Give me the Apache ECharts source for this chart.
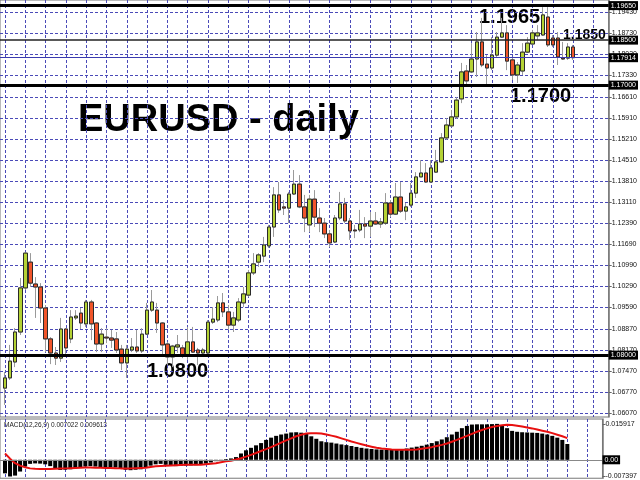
<!DOCTYPE html>
<html><head><meta charset="utf-8">
<script src="https://cdn.jsdelivr.net/npm/echarts@6.0.0/dist/echarts.min.js"></script>
<style>html,body{margin:0;padding:0;background:#fff}#c{width:640px;height:480px}</style>
</head><body><div id="c"></div>
<script>
// ---- data (EURUSD daily) ----
const opens = [1.0690,1.0724,1.0777,1.0877,1.1024,1.1110,1.1037,1.1027,1.0957,1.0854,
1.0807,1.0790,1.0887,1.0854,1.0924,1.0940,1.0904,1.0977,1.0907,1.0837,
1.0860,1.0857,1.0854,1.0820,1.0774,1.0817,1.0827,1.0814,1.0870,1.0950,
1.0950,1.0907,1.0837,1.0794,1.0827,1.0824,1.0800,1.0844,1.0817,1.0807,
1.0807,1.0910,1.0917,1.0974,1.0944,1.0900,1.0917,1.0974,1.1000,1.1074,
1.1110,1.1130,1.1164,1.1227,1.1334,1.1294,1.1290,1.1337,1.1370,1.1294,
1.1234,1.1320,1.1257,1.1240,1.1204,1.1177,1.1257,1.1304,1.1247,1.1217,
1.1217,1.1237,1.1230,1.1247,1.1237,1.1240,1.1307,1.1270,1.1327,1.1280,
1.1300,1.1340,1.1394,1.1407,1.1377,1.1410,1.1444,1.1524,1.1564,1.1594,
1.1654,1.1747,1.1744,1.1787,1.1844,1.1770,1.1757,1.1800,1.1860,1.1874,
1.1784,1.1734,1.1747,1.1810,1.1837,1.1864,1.1867,1.1927,1.1857,1.1857,
1.1790,1.1790,1.1827];
const closes = [1.0724,1.0780,1.0877,1.1024,1.1140,1.1040,1.1027,1.0957,1.0854,1.0807,
1.0790,1.0887,1.0824,1.0927,1.0930,1.0907,1.0977,1.0904,1.0837,1.0870,
1.0857,1.0850,1.0817,1.0774,1.0820,1.0827,1.0814,1.0870,1.0950,1.0977,
1.0907,1.0834,1.0794,1.0830,1.0834,1.0800,1.0844,1.0810,1.0807,1.0817,
1.0910,1.0920,1.0974,1.0944,1.0900,1.0924,1.0977,1.1004,1.1074,1.1104,
1.1134,1.1167,1.1227,1.1334,1.1284,1.1290,1.1337,1.1370,1.1294,1.1257,
1.1320,1.1260,1.1240,1.1204,1.1174,1.1257,1.1304,1.1247,1.1214,1.1214,
1.1237,1.1230,1.1247,1.1237,1.1244,1.1307,1.1270,1.1327,1.1280,1.1294,
1.1340,1.1394,1.1407,1.1377,1.1424,1.1444,1.1524,1.1567,1.1594,1.1650,
1.1744,1.1714,1.1787,1.1844,1.1767,1.1757,1.1800,1.1860,1.1874,1.1780,
1.1734,1.1767,1.1810,1.1840,1.1874,1.1874,1.1934,1.1834,1.1834,1.1794,
1.1787,1.1827,1.17914];
const lows = [1.0634,1.0717,1.0760,1.0867,1.1017,1.1027,1.0924,1.0907,1.0810,1.0770,
1.0767,1.0777,1.0794,1.0840,1.0917,1.0887,1.0894,1.0850,1.0810,1.0810,
1.0840,1.0824,1.0807,1.0750,1.0724,1.0810,1.0807,1.0807,1.0867,1.0944,
1.0874,1.0800,1.0767,1.0760,1.0807,1.0790,1.0784,1.0807,1.0767,1.0797,
1.0800,1.0904,1.0910,1.0927,1.0884,1.0877,1.0910,1.0960,1.0994,1.1067,
1.1094,1.1110,1.1157,1.1194,1.1274,1.1267,1.1240,1.1334,1.1290,1.1210,
1.1210,1.1227,1.1210,1.1190,1.1160,1.1174,1.1250,1.1240,1.1184,1.1190,
1.1210,1.1190,1.1194,1.1234,1.1224,1.1234,1.1260,1.1267,1.1274,1.1250,
1.1294,1.1324,1.1394,1.1374,1.1374,1.1407,1.1440,1.1517,1.1560,1.1587,
1.1640,1.1700,1.1740,1.1727,1.1760,1.1700,1.1750,1.1794,1.1857,1.1750,
1.1717,1.1707,1.1734,1.1807,1.1834,1.1850,1.1864,1.1827,1.1827,1.1767,
1.1784,1.1784,1.1784];
const highs = [1.0744,1.0834,1.0890,1.1057,1.1144,1.1140,1.1060,1.1040,1.0967,1.0860,
1.0827,1.0924,1.0890,1.0950,1.0950,1.0957,1.0984,1.0984,1.0910,1.0890,
1.0890,1.0884,1.0877,1.0834,1.0834,1.0857,1.0884,1.0890,1.0974,1.1017,
1.0974,1.0910,1.0844,1.0834,1.0867,1.0834,1.0894,1.0894,1.0824,1.0824,
1.0917,1.0960,1.0997,1.1007,1.0967,1.0944,1.0990,1.1027,1.1084,1.1140,
1.1140,1.1194,1.1234,1.1360,1.1377,1.1317,1.1344,1.1417,1.1400,1.1334,
1.1334,1.1350,1.1290,1.1257,1.1217,1.1267,1.1344,1.1324,1.1257,1.1234,
1.1284,1.1260,1.1277,1.1277,1.1257,1.1340,1.1317,1.1374,1.1377,1.1307,
1.1374,1.1410,1.1450,1.1440,1.1450,1.1484,1.1540,1.1590,1.1617,1.1660,
1.1774,1.1767,1.1840,1.1877,1.1924,1.1800,1.1860,1.1877,1.1924,1.1900,
1.1794,1.1777,1.1840,1.1860,1.1884,1.1900,1.1960,1.1960,1.1867,1.1877,
1.1844,1.1840,1.1834];
const macdMain = [-0.0060,-0.0074,-0.0070,-0.0052,-0.0030,-0.0018,-0.0016,-0.0017,-0.0020,-0.0028,
-0.0038,-0.0045,-0.0044,-0.0042,-0.0038,-0.0034,-0.0030,-0.0028,-0.0030,-0.0033,
-0.0033,-0.0032,-0.0034,-0.0038,-0.0044,-0.0046,-0.0044,-0.0042,-0.0036,-0.0026,
-0.0020,-0.0018,-0.0022,-0.0027,-0.0028,-0.0027,-0.0026,-0.0025,-0.0024,-0.0022,
-0.0017,-0.0012,-0.0006,-0.0002,0.0003,0.0006,0.0012,0.0028,0.0042,0.0053,
0.0064,0.0074,0.0088,0.0098,0.0106,0.0112,0.0116,0.0121,0.0122,0.0120,
0.0115,0.0104,0.0093,0.0082,0.0078,0.0076,0.0072,0.0068,0.0065,0.0061,
0.0057,0.0053,0.0050,0.0048,0.0046,0.0045,0.0044,0.0044,0.0044,0.0046,
0.0050,0.0054,0.0058,0.0062,0.0067,0.0074,0.0082,0.0090,0.0100,0.0112,
0.0124,0.0140,0.0150,0.0156,0.0157,0.0157,0.0157,0.0158,0.0159,0.0150,
0.0140,0.0128,0.0124,0.0122,0.0121,0.0120,0.0119,0.0116,0.0112,0.0106,
0.0098,0.0088,0.0070];
const macdSignal = [0.0028,0.0005,-0.0015,-0.0026,-0.0033,-0.0038,-0.0040,-0.0041,-0.0041,-0.0041,
-0.0040,-0.0039,-0.0038,-0.0037,-0.0036,-0.0035,-0.0034,-0.0034,-0.0035,-0.0035,
-0.0036,-0.0036,-0.0037,-0.0038,-0.0038,-0.0038,-0.0037,-0.0036,-0.0035,-0.0032,
-0.0029,-0.0027,-0.0026,-0.0025,-0.0024,-0.0023,-0.0022,-0.0022,-0.0022,-0.0022,
-0.0020,-0.0018,-0.0015,-0.0011,-0.0007,-0.0004,0.0001,0.0007,0.0014,0.0022,
0.0030,0.0039,0.0047,0.0056,0.0066,0.0076,0.0086,0.0095,0.0104,0.0111,
0.0116,0.0118,0.0118,0.0116,0.0112,0.0107,0.0102,0.0095,0.0088,0.0081,
0.0075,0.0069,0.0063,0.0058,0.0053,0.0050,0.0048,0.0046,0.0045,0.0044,
0.0044,0.0045,0.0046,0.0049,0.0052,0.0056,0.0061,0.0066,0.0072,0.0080,
0.0088,0.0097,0.0106,0.0115,0.0124,0.0132,0.0139,0.0145,0.0150,0.0153,
0.0155,0.0154,0.0151,0.0147,0.0143,0.0139,0.0134,0.0129,0.0124,0.0118,
0.0111,0.0104,0.0096];
const priceTicks = [1.06070,1.06770,1.07470,1.08170,1.08870,1.09590,1.10290,1.10990,1.11690,1.12390,
1.13110,1.13810,1.14510,1.15210,1.15910,1.16610,1.17330,1.18030,1.18730,1.19430];
const macdTicks = [0.015917, 0, -0.007397];
const levelPrices = [1.19650, 1.18500, 1.17914, 1.17000, 1.08000];
const levelTexts = ['1.1965', '1.1850', '1.1700', '1.0800'];
const macdTitle = 'MACD(12,26,9) 0.007022 0.009613';
const chartTitle = 'EURUSD - daily';

// ---- build ----
const LEAD = 1, TRAIL = 7;
const pad = a => [...Array(LEAD).fill('-'), ...a, ...Array(TRAIL).fill('-')];
const categories = pad(opens.map((_, i) => 'D' + (i + 1))).map((c, i) => c === '-' ? 'e' + i : c);
const fullData = pad(opens.map((o, i) => [o, closes[i], lows[i], highs[i]]));
const bodyData = pad(opens.map((o, i) => [o, closes[i], Math.min(o, closes[i]), Math.max(o, closes[i])]));

const BULL = '#b4d234', BEAR = '#f0552a';
const GRID = '#4a4ab8';
const lab = {fontSize: 7, fontFamily: 'Liberation Sans, Arial, sans-serif', color: '#111'};

const xBase = {
  type: 'category', data: categories, boundaryGap: false,
  axisLine: {show: false}, axisTick: {show: false}, axisLabel: {show: false},
  splitLine: {show: true, interval: (i) => (i - LEAD) % 4 === 0, lineStyle: {color: GRID, type: [3, 2], width: 1}}
};

const levelStyle = [
  {color: '#000', width: 3},
  {color: '#222', width: 1.5},
  {color: '#3a3ab0', width: 1},
  {color: '#000', width: 3},
  {color: '#000', width: 3}
];

const chart = echarts.init(document.getElementById('c'), null, {renderer: 'canvas'});
chart.setOption({
  animation: false,
  backgroundColor: '#fff',
  grid: [
    {left: -2.4, right: 28.5, top: 0, height: 417, show: true, borderColor: '#777', borderWidth: 1},
    {left: -2.4, right: 28.5, top: 419, height: 61, show: true, borderColor: '#777', borderWidth: 1}
  ],
  xAxis: [Object.assign({gridIndex: 0}, xBase), Object.assign({gridIndex: 1}, xBase)],
  yAxis: [
    {gridIndex: 0, type: 'value', position: 'right', min: 1.05937, max: 1.19837,
     axisLine: {show: true, lineStyle: {color: '#777', width: 1.5}},
     axisTick: {show: true, customValues: priceTicks, length: 3, lineStyle: {color: '#666'}},
     axisLabel: Object.assign({customValues: priceTicks, margin: 3, formatter: v => v.toFixed(5)}, lab),
     splitLine: {show: true, lineStyle: {color: GRID, type: [3, 2], width: 1}}},
    {gridIndex: 1, type: 'value', position: 'right', min: -0.00817, max: 0.01806,
     axisLine: {show: true, lineStyle: {color: '#777', width: 1.5}},
     axisTick: {show: true, customValues: macdTicks, length: 3, lineStyle: {color: '#666'}},
     axisLabel: Object.assign({customValues: macdTicks, margin: 3, formatter: v => v === 0 ? '0.00' : v.toFixed(6)}, lab),
     splitLine: {show: false}}
  ],
  graphic: [
    {type: 'text', x: 78, y: 121, style: {text: chartTitle, font: 'bold 38px "Liberation Sans", Arial, sans-serif', fill: '#000', align: 'left', verticalAlign: 'middle'}},
    {type: 'text', x: 479, y: 17.5, style: {text: levelTexts[0], font: 'bold 20px "Liberation Sans", Arial, sans-serif', fill: '#000', verticalAlign: 'middle'}},
    {type: 'text', x: 563, y: 35, style: {text: levelTexts[1], font: 'bold 14px "Liberation Sans", Arial, sans-serif', fill: '#000', verticalAlign: 'middle'}},
    {type: 'text', x: 510, y: 96.5, style: {text: levelTexts[2], font: 'bold 20px "Liberation Sans", Arial, sans-serif', fill: '#000', verticalAlign: 'middle'}},
    {type: 'text', x: 147, y: 371.5, style: {text: levelTexts[3], font: 'bold 20px "Liberation Sans", Arial, sans-serif', fill: '#000', verticalAlign: 'middle'}},
    {type: 'text', x: 4, y: 425, style: {text: macdTitle, font: '6.5px "Liberation Sans", Arial, sans-serif', fill: '#222', verticalAlign: 'middle'}}
  ],
  series: [
    {type: 'candlestick', xAxisIndex: 0, yAxisIndex: 0, data: fullData, barWidth: 4,
     itemStyle: {color: BULL, color0: BEAR, borderColor: '#9a9a9a', borderColor0: '#9a9a9a', borderColorDoji: '#9a9a9a', borderWidth: 1}},
    {type: 'candlestick', xAxisIndex: 0, yAxisIndex: 0, data: bodyData, barWidth: 4,
     itemStyle: {color: BULL, color0: BEAR, borderColor: '#2a2a2a', borderColor0: '#2a2a2a', borderColorDoji: '#2a2a2a', borderWidth: 1},
     markLine: {silent: true, symbol: ['none', 'none'], animation: false, precision: 5,
       data: levelPrices.map((p, i) => ({yAxis: p, lineStyle: Object.assign({type: 'solid'}, levelStyle[i]),
         label: {show: true, position: 'end', distance: 0, formatter: p.toFixed(5), backgroundColor: '#000', color: '#fff',
                 fontSize: 7, fontFamily: 'Liberation Sans, Arial, sans-serif', padding: [1, 2, 1, 2]}}))}},
    {type: 'bar', xAxisIndex: 1, yAxisIndex: 1, data: pad(macdMain), barWidth: 4, itemStyle: {color: '#000'},
     markLine: {silent: true, symbol: ['none', 'none'], animation: false, precision: 6,
       data: [{yAxis: 0, lineStyle: {type: 'solid', color: '#888', width: 1},
         label: {show: true, position: 'end', distance: 0, formatter: '0.00', backgroundColor: '#000', color: '#fff',
                 fontSize: 7, fontFamily: 'Liberation Sans, Arial, sans-serif', padding: [1, 2, 1, 2]}}]}},
    {type: 'line', xAxisIndex: 1, yAxisIndex: 1, data: pad(macdSignal), symbol: 'none',
     lineStyle: {color: '#e81010', width: 2}}
  ]
});
</script></body></html>
